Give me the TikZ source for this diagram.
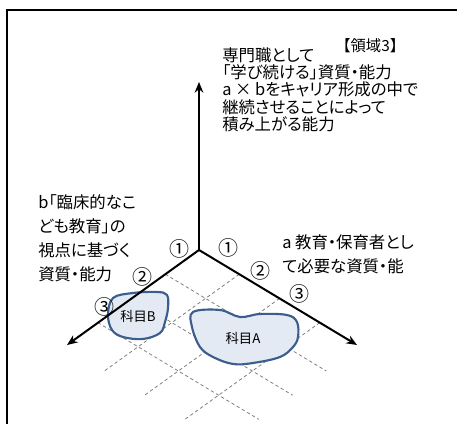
\documentclass[tikz,border=0pt]{standalone}
\usepackage{fontspec}
\newfontfamily\jpfont[RawFeature=+palt]{Noto Sans CJK JP}
\newfontfamily\jpfull{Noto Sans CJK JP}
\usetikzlibrary{arrows.meta}
\definecolor{blobfill}{HTML}{E3EAF4}
\definecolor{blobline}{HTML}{3B5E8C}
\tikzset{
  axis/.style={line width=1.5pt,-{Stealth[length=8pt,width=6.5pt]}},
  gridline/.style={gray,line width=0.6pt,dash pattern=on 2.5pt off 2pt},
  subject/.style={fill=blobfill,draw=blobline,line width=1.6pt},
  txt/.style={inner sep=0pt,anchor=north west,align=left,font=\jpfont\fontsize{12.3pt}{18pt}\selectfont},
  tick/.style={inner sep=0pt,font=\jpfull\fontsize{15pt}{15pt}\selectfont}
}
\begin{document}
\begin{tikzpicture}[x=0.75pt,y=-0.75pt]
\useasboundingbox (0,0) rectangle (457,424);
\clip (0,0) rectangle (457,424);
% frame
\draw[line width=1.1pt] (7,424) -- (7,10) -- (457,10);
% floor grid
\begin{scope}[shift={(199,250)},x={(30.2pt,-18.15pt)},y={(-25.3pt,-18.15pt)}]
\foreach \k in {1,2,3}{
  \draw[gridline] (0,\k) -- (4,\k);
  \draw[gridline] (\k,0) -- (\k,4);
}
\end{scope}
% subjects
\draw[subject] plot[smooth cycle,tension=0.6] coordinates {(113,298) (133,293) (157,292) (167,295) (168,308) (165,322) (160,333) (143,339) (123,337) (112,330) (108,315)};
\draw[subject] plot[smooth cycle,tension=0.6] coordinates {(193,312) (220,310) (240,317) (260,314) (287,315) (297,322) (298,337) (293,347) (280,357) (253,363) (233,364) (213,357) (200,347) (192,327)};
\node[tick,font=\jpfull\fontsize{10pt}{10pt}\selectfont] (sB) at (138,316) {科目B};
\node[tick,font=\jpfull\fontsize{10pt}{10pt}\selectfont] (sA) at (243,338) {科目A};
% axes
\coordinate (O) at (199,250);
\coordinate (up) at (199,82);
\coordinate (ea) at (357,345);
\coordinate (eb) at (67,345);
\draw[axis] (O) -- (up);
\draw[axis] (O) -- (ea);
\draw[axis] (O) -- (eb);
% ticks
\node[tick] (a1) at (228,248) {①};
\node[tick] (a2) at (260,271) {②};
\node[tick] (a3) at (299,294) {③};
\node[tick] (b1) at (179,249) {①};
\node[tick] (b2) at (142,277) {②};
\node[tick] (b3) at (104,307) {③};
% texts
\node[txt,font=\jpfull\fontsize{11.5pt}{13pt}\selectfont] (area) at (335,38) {【領域3】};
\node[txt,font=\jpfont\fontsize{12.3pt}{13.1pt}\selectfont] (top) at (222,47)
  {専門職として\\「学び続ける」資質・能力\\a × bをキャリア形成の中で\\継続させることによって\\積み上がる能力};
\node[txt] (left) at (38,194) {b「臨床的なこ\\ども教育」の\\視点に基づく\\資質・能力};
\node[txt] (right) at (282,234) {a 教育・保育者とし\\て必要な資質・能};
\end{tikzpicture}
\end{document}
